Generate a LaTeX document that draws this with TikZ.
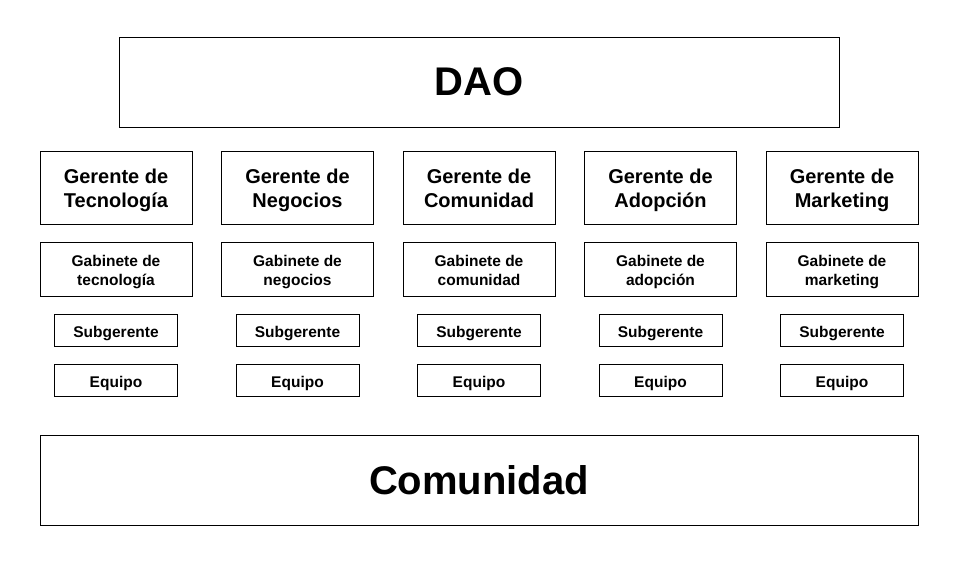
\documentclass[tikz,border=0pt]{standalone}
\usepackage{fontspec}
\setmainfont{Liberation Sans}
\usepackage{tikz}

\newcommand{\sube}[1]{\rule{0pt}{#1}}
\newcommand{\baja}[1]{\rule[-#1]{0pt}{#1}}

\tikzset{
  caja/.style={draw, line width=1pt, inner sep=0pt, align=center, font=\bfseries},
  grande/.style={caja, minimum height=90pt, font=\fontsize{40}{48}\selectfont\bfseries},
  gerente/.style={caja, minimum width=152pt, minimum height=73pt, font=\fontsize{20}{24}\selectfont\bfseries},
  gabinete/.style={caja, minimum width=152pt, minimum height=54pt, font=\fontsize{15.5}{19}\selectfont\bfseries},
  nivel/.style={caja, minimum width=123pt, minimum height=32pt, font=\fontsize{15.5}{19}\selectfont\bfseries}
}

\begin{document}
\begin{tikzpicture}[x=1pt,y=-1pt]
  \useasboundingbox (0,0) rectangle (959,563);
  \node[grande, minimum width=720pt] (dao) at (479,82) {DAO};
  \foreach \i/\area/\gab in {0/Tecnología/tecnología, 1/Negocios/negocios, 2/Comunidad/comunidad, 3/Adopción/adopción, 4/Marketing/marketing} {
    \node[gerente] (ger\i) at (116+181.5*\i,187.5) {\sube{21.2pt}Gerente de\\\area\baja{5pt}};
    \node[gabinete] (gab\i) at (116+181.5*\i,269) {\sube{18.4pt}Gabinete de\\\gab\baja{4pt}};
    \node[nivel] (sub\i) at (116+181.5*\i,330) {\sube{18pt}Subgerente\baja{4pt}};
    \node[nivel] (eq\i) at (116+181.5*\i,380) {\sube{18pt}Equipo\baja{4pt}};
  }
  \node[grande, minimum width=878pt] (com) at (479,480) {Comunidad};
\end{tikzpicture}
\end{document}
